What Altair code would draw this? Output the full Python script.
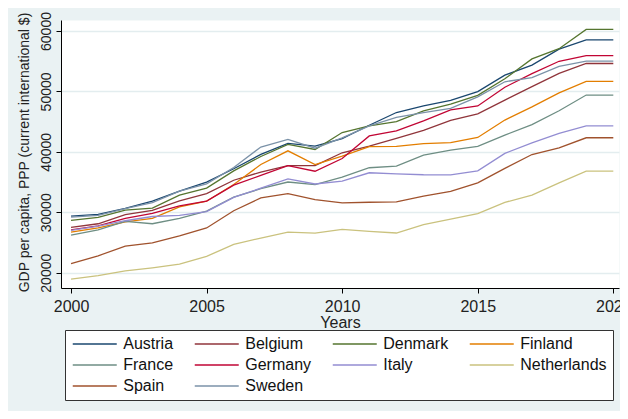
import altair as alt
import pandas as pd

years = [2000, 2001, 2002, 2003, 2004, 2005, 2006, 2007, 2008, 2009, 2010,
         2011, 2012, 2013, 2014, 2015, 2016, 2017, 2018, 2019, 2020]

countries = ["Austria", "Belgium", "Denmark", "Finland", "France",
             "Germany", "Italy", "Netherlands", "Spain", "Sweden"]

austria = [29360, 29650, 30650, 31850, 33500, 35000, 37200, 39570, 41390, 40940, 42200,
           44400, 46510, 47620, 48500, 49970, 52700, 54350, 57000, 58530, 58530]
belgium = [27500, 28100, 29600, 30300, 31900, 33100, 35300, 36650, 37730, 37730, 39850,
           40950, 42240, 43570, 45200, 46300, 48570, 50800, 53000, 54620, 54620]
denmark = [28650, 29140, 30360, 30700, 32840, 34000, 36850, 39230, 41220, 40390, 43200,
           44290, 45010, 46790, 47880, 49360, 52100, 55380, 57070, 60270, 60270]
finland = [26730, 27430, 28420, 28990, 30900, 31830, 34600, 37900, 40170, 37900, 39290,
           40860, 40910, 41360, 41510, 42380, 45260, 47440, 49760, 51650, 51650]
france = [26200, 27100, 28500, 28100, 29000, 30200, 32500, 33900, 35010, 34570, 35830,
          37370, 37650, 39470, 40300, 40900, 42780, 44500, 46800, 49400, 49400]
germany = [27100, 27760, 28990, 29800, 31070, 31850, 34500, 36100, 37730, 36790, 38900,
           42630, 43460, 45120, 46950, 47600, 50700, 52950, 54990, 55920, 55920]
italy = [27000, 27700, 28600, 29300, 29500, 30100, 32450, 33980, 35510, 34680, 35150,
         36540, 36370, 36210, 36200, 36850, 39750, 41490, 43060, 44300, 44300]
netherlands = [18950, 19500, 20300, 20810, 21420, 22700, 24700, 25740, 26700, 26540, 27180,
               26840, 26570, 27950, 28880, 29770, 31630, 32840, 34880, 36800, 36800]
spain = [21520, 22800, 24400, 24940, 26100, 27400, 30250, 32380, 33080, 32080, 31550,
         31660, 31720, 32660, 33440, 34880, 37270, 39560, 40670, 42330, 42330]
sweden = [29200, 29500, 30600, 31600, 33500, 34700, 37400, 40800, 42050, 40600, 42300,
          44300, 45700, 46500, 47200, 49100, 51600, 52300, 54150, 55000, 55000]

series = [austria, belgium, denmark, finland, france, germany, italy, netherlands, spain, sweden]

colors = ["#1a476f", "#90353b", "#55752f", "#e37e00", "#6e8e84",
          "#c10534", "#938dd2", "#cac27e", "#a0522d", "#7b92a8"]

x_ticks = [2000, 2005, 2010, 2015, 2020]
y_ticks = [20000, 30000, 40000, 50000, 60000]

rows = []
for name, vals in zip(countries, series):
    for yr, v in zip(years, vals):
        rows.append({"country": name, "year": yr, "gdp": v})
df = pd.DataFrame(rows)

FONT = "Liberation Sans"

chart = alt.Chart(df).mark_line(strokeWidth=1.3, clip=True).encode(
    x=alt.X("year:Q",
            scale=alt.Scale(domain=[1999.63, 2020.21], nice=False, zero=False),
            axis=alt.Axis(values=x_ticks, format="d", title="Years", grid=False,
                          labelFont=FONT, labelFontSize=16, labelColor="#222",
                          labelFlush=False, labelOverlap=False, labelPadding=5,
                          tickSize=5, tickColor="#000", domainColor="#000",
                          titleFont=FONT, titleFontSize=16, titleFontWeight="normal",
                          titleColor="#222", titleY=26, titleBaseline="top")),
    y=alt.Y("gdp:Q",
            scale=alt.Scale(domain=[17468, 61820], nice=False, zero=False),
            axis=alt.Axis(values=y_ticks, format="d",
                          title="GDP per capita, PPP (current international $)",
                          grid=True, gridColor="#e3edef", gridWidth=1.5,
                          labelFont=FONT, labelFontSize=14, labelColor="#222",
                          labelAngle=270, labelAlign="center", labelBaseline="bottom",
                          labelPadding=3, labelFlush=False, labelOverlap=False,
                          tickSize=5, tickColor="#000", domainColor="#000",
                          titleFont=FONT, titleFontSize=14, titleFontWeight="normal",
                          titleColor="#222", titleAngle=270, titleAlign="center",
                          titleBaseline="middle", titleX=-37, titleY=132)),
    color=alt.Color("country:N",
                    scale=alt.Scale(domain=countries, range=colors),
                    legend=alt.Legend(title=None, orient="none", legendX=4, legendY=310,
                                      direction="horizontal", columns=4,
                                      symbolType="M-4,0H4", symbolSize=121,
                                      symbolStrokeWidth=1.5, symbolOffset=15.75,
                                      labelFont=FONT,
                                      labelFontSize=16, labelColor="#111",
                                      labelOffset=20.5, columnPadding=17, rowPadding=5,
                                      padding=6, strokeColor="#333", fillColor="white",
                                      cornerRadius=0, gridAlign="each", labelLimit=200)),
).properties(
    width=558, height=268,
    autosize=alt.AutoSizeParams(type="none"),
    padding={"left": 53, "top": 12, "right": 1, "bottom": 123},
    background="#eaf2f3",
).configure_view(fill="white", stroke="transparent")

chart.save("out.html", embed_options={"renderer": "svg", "actions": False})
